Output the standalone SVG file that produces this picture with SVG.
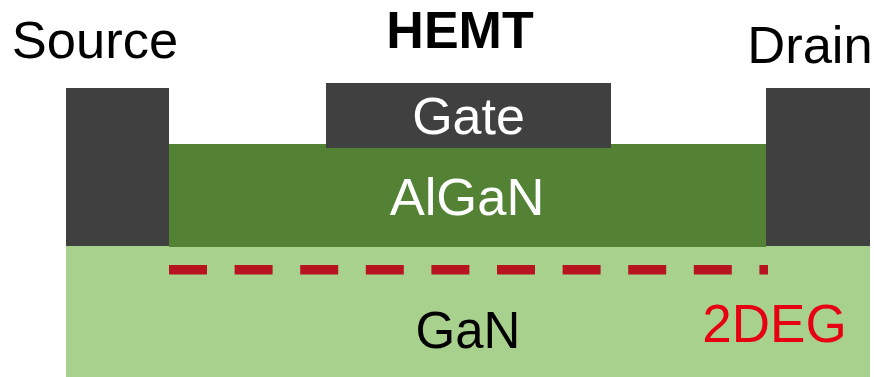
<svg xmlns="http://www.w3.org/2000/svg" width="874" height="377" viewBox="0 0 874 377">
<style>
text{font-family:"Liberation Sans",Arial,sans-serif;font-size:52.500px;text-anchor:middle}
.d{fill:#404040}
.w{fill:#fff}
</style>
<rect width="874" height="377" fill="#fff"/>
<g id="gan"><rect x="66" y="246" width="804" height="131" fill="#a9d18e"/><text x="468" y="348" style="font-size:51px">GaN</text></g>
<g id="algan"><rect x="169" y="144" width="597" height="103" fill="#548235"/><text class="w" x="467" y="214.500">AlGaN</text></g>
<g id="source"><rect class="d" x="66" y="88" width="103" height="158"/><text x="95" y="58">Source</text></g>
<g id="drain"><rect class="d" x="766" y="88" width="104" height="158"/><text x="810" y="62.500">Drain</text></g>
<g id="gate"><rect class="d" x="326" y="83" width="285" height="65"/><text class="w" x="468.500" y="134" style="font-size:52px">Gate</text></g>
<g id="hemt"><text x="460" y="48" style="font-weight:bold;font-size:52px">HEMT</text></g>
<g id="connectors"><line x1="169" y1="269.700" x2="768" y2="269.700" stroke="#b81420" stroke-width="9.400" stroke-dasharray="38 27.600"/></g>
<g id="deg"><text x="774.500" y="341.500" fill="#e60012" style="font-size:53px">2DEG</text></g>
</svg>
